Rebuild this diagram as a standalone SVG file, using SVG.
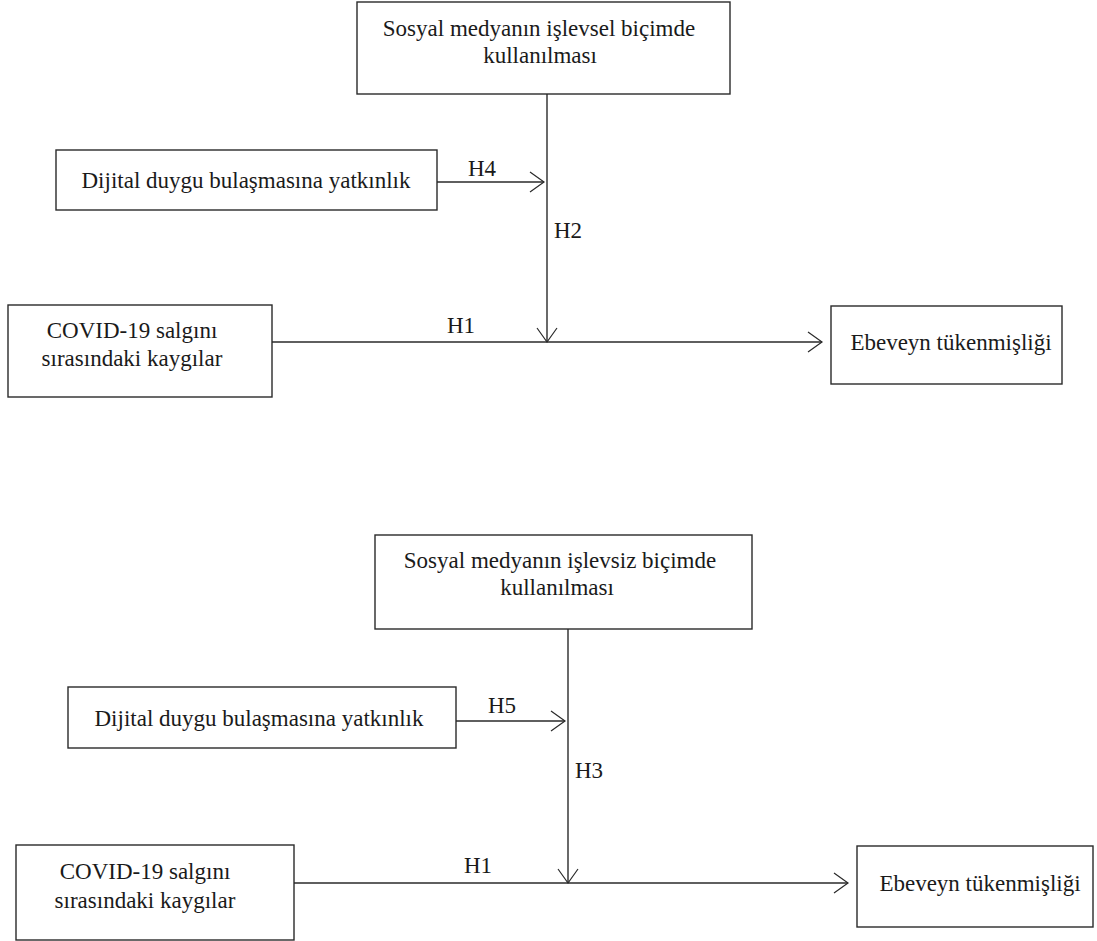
<svg xmlns="http://www.w3.org/2000/svg" width="1097" height="941" viewBox="0 0 1097 941">
  <style>
    .box { fill: #ffffff; stroke: #2a2a2a; stroke-width: 1.4; }
    .lbl { font-family: "Liberation Serif", "Times New Roman", serif; font-size: 23px; fill: #1a1a1a; text-anchor: middle; }
    .edge { fill: none; stroke: #2a2a2a; stroke-width: 1.4; }
  </style>
  <defs>
    <marker id="open" markerUnits="userSpaceOnUse" markerWidth="20" markerHeight="24" refX="15" refY="10" orient="auto" overflow="visible">
      <path d="M1,0 L15,10 L1,20" fill="none" stroke="#2a2a2a" stroke-width="1.2"/>
    </marker>
  </defs>
  <rect width="1097" height="941" fill="#ffffff"/>

  <!-- Model 1: functional use of social media -->
  <g id="n1-sosyal-islevsel">
    <rect class="box" x="357" y="2" width="373" height="92"/>
    <text class="lbl" x="539" y="36">Sosyal medyanın işlevsel biçimde</text>
    <text class="lbl" x="540" y="63">kullanılması</text>
  </g>
  <g id="n1-dijital">
    <rect class="box" x="56" y="150" width="381" height="60"/>
    <text class="lbl" x="246" y="188">Dijital duygu bulaşmasına yatkınlık</text>
  </g>
  <g id="n1-covid">
    <rect class="box" x="8" y="305" width="264" height="92"/>
    <text class="lbl" x="132" y="338">COVID-19 salgını</text>
    <text class="lbl" x="132" y="366">sırasındaki kaygılar</text>
  </g>
  <g id="n1-ebeveyn">
    <rect class="box" x="831" y="306" width="231" height="78"/>
    <text class="lbl" x="951" y="350">Ebeveyn tükenmişliği</text>
  </g>

  <!-- Model 2: dysfunctional use of social media -->
  <g id="n2-sosyal-islevsiz">
    <rect class="box" x="375" y="535" width="377" height="94"/>
    <text class="lbl" x="560" y="568">Sosyal medyanın işlevsiz biçimde</text>
    <text class="lbl" x="557" y="595">kullanılması</text>
  </g>
  <g id="n2-dijital">
    <rect class="box" x="68" y="687" width="388" height="61"/>
    <text class="lbl" x="259" y="726">Dijital duygu bulaşmasına yatkınlık</text>
  </g>
  <g id="n2-covid">
    <rect class="box" x="16" y="845" width="278" height="95"/>
    <text class="lbl" x="145" y="879">COVID-19 salgını</text>
    <text class="lbl" x="145" y="908">sırasındaki kaygılar</text>
  </g>
  <g id="n2-ebeveyn">
    <rect class="box" x="857" y="846" width="236" height="81"/>
    <text class="lbl" x="980" y="891">Ebeveyn tükenmişliği</text>
  </g>

  <!-- Connectors and hypothesis labels -->
  <g id="connectors">
    <line class="edge" x1="437" y1="182" x2="544" y2="182" marker-end="url(#open)"/>
    <line class="edge" x1="547" y1="94" x2="547" y2="342" marker-end="url(#open)"/>
    <line class="edge" x1="272" y1="342" x2="822" y2="342" marker-end="url(#open)"/>
    <text class="lbl" x="482" y="176">H4</text>
    <text class="lbl" x="568" y="238">H2</text>
    <text class="lbl" x="461" y="333">H1</text>

    <line class="edge" x1="456" y1="721" x2="565" y2="721" marker-end="url(#open)"/>
    <line class="edge" x1="568" y1="629" x2="568" y2="883" marker-end="url(#open)"/>
    <line class="edge" x1="294" y1="883" x2="848" y2="883" marker-end="url(#open)"/>
    <text class="lbl" x="502" y="713">H5</text>
    <text class="lbl" x="589" y="778">H3</text>
    <text class="lbl" x="478" y="873">H1</text>
  </g>
</svg>
